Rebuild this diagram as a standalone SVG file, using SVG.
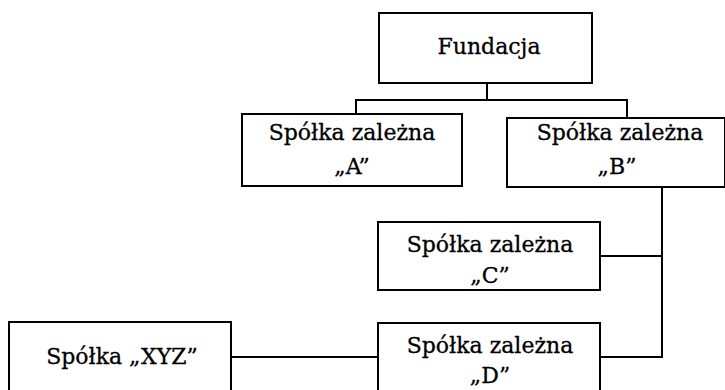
<svg xmlns="http://www.w3.org/2000/svg" width="725" height="390" viewBox="0 0 725 390">
<style>
rect{fill:#fff;stroke:#000;stroke-width:2}
.c{fill:none;stroke:#000;stroke-width:2}
text{font-family:"DejaVu Serif","Liberation Serif",serif;font-size:22px;fill:#000;text-anchor:middle;stroke:#000;stroke-width:0.3}
</style>
<rect x="0" y="0" width="725" height="390" style="stroke:none"/>
<g id="connectors">
<path class="c" d="M487,83 V100 M356,114 V100 H627 V118"/>
<path class="c" d="M662,187 V357 H600 M600,256 H662"/>
<path class="c" d="M231,357 H378"/>
</g>
<g id="fundacja"><rect x="379" y="13" width="213" height="70"/><text x="489" y="54">Fundacja</text></g>
<g id="spolkaA"><rect x="242" y="114" width="220" height="72"/><text x="352" y="140">Spółka zależna</text><text x="352" y="174">„A”</text></g>
<g id="spolkaB"><rect x="507" y="118" width="218" height="69"/><text x="620" y="140">Spółka zależna</text><text x="617" y="174">„B”</text></g>
<g id="spolkaC"><rect x="378" y="222" width="222" height="68"/><text x="490" y="252">Spółka zależna</text><text x="490" y="283">„C”</text></g>
<g id="spolkaD"><rect x="378" y="323" width="222" height="70"/><text x="490" y="353">Spółka zależna</text><text x="490" y="383">„D”</text></g>
<g id="spolkaXYZ"><rect x="9" y="322" width="222" height="71"/><text x="122" y="364">Spółka „XYZ”</text></g>
</svg>
